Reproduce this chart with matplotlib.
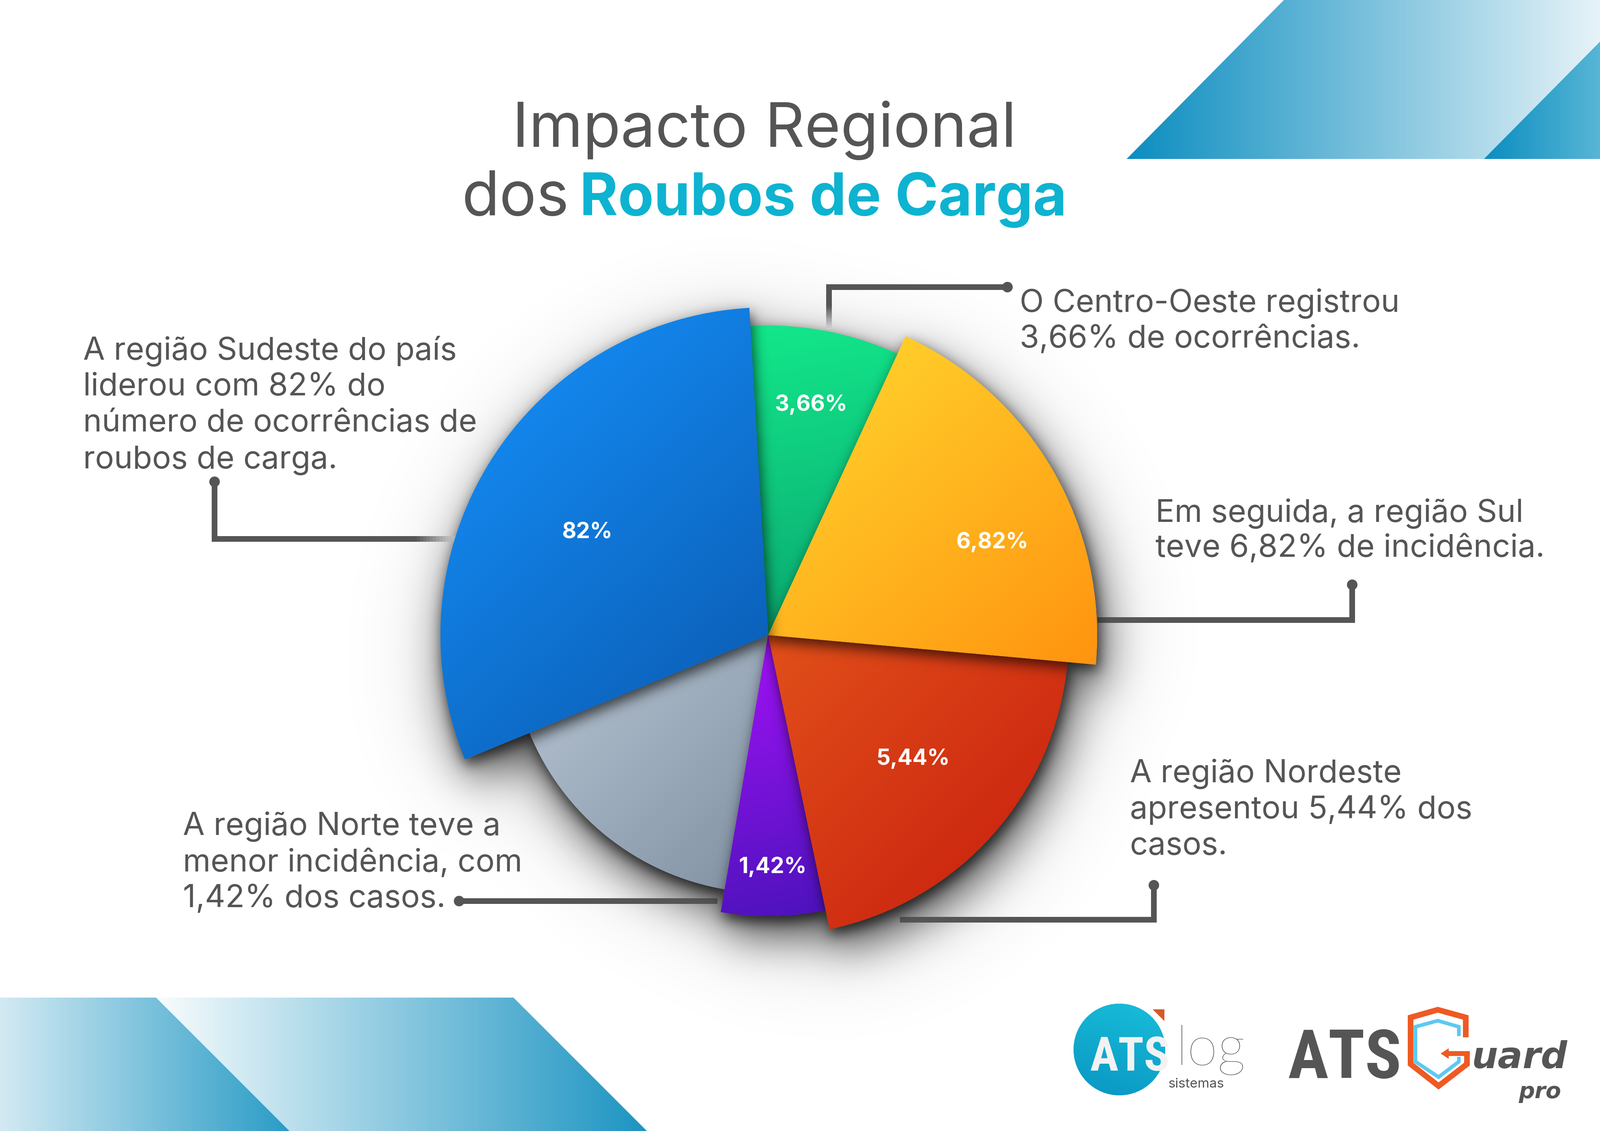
import numpy as np
import matplotlib
matplotlib.use("Agg")
import matplotlib.pyplot as plt
from matplotlib.patches import Polygon, Circle
from matplotlib.collections import LineCollection
from matplotlib.colors import to_rgb

W, H = 3945, 2789

# ---------------- data ----------------
regions = ["Sul", "Centro-Oeste", "Sudeste", "Sem rótulo", "Norte", "Nordeste"]
pct_labels = ["6,82%", "3,66%", "82%", "", "1,42%", "5,44%"]
slice_degrees = [70.45, 28.0, 109.0, 58.0, 21.5, 73.05]   # slice sizes as drawn

title_line1 = "Impacto Regional"
title_dos = "dos"
title_highlight = "Roubos de Carga"

note_sudeste = ["A região Sudeste do país", "liderou com 82% do",
                "número de ocorrências de", "roubos de carga."]
note_centro_oeste = ["O Centro-Oeste registrou", "3,66% de ocorrências."]
note_sul = ["Em seguida, a região Sul", "teve 6,82% de incidência."]
note_nordeste = ["A região Nordeste", "apresentou 5,44% dos", "casos."]
note_norte = ["A região Norte teve a", "menor incidência, com", "1,42% dos casos."]

# ---------------- style ----------------
GRAY_TXT = "#555555"
CYAN = "#0DB3D0"
BODY_FONT = ["Inter", "DejaVu Sans"]
CX, CY = 1894, H - 1566
START_ANGLE = -5.15
slice_radius = [811, 763, 808, 636, 693, 741]
slice_grad = [("#FFDA30", "#FF930F", (1, -1.2)),
              ("#13E88B", "#0AA56F", (0.2, -1)),
              ("#1694FF", "#0A58AE", (1, -1.1)),
              ("#B8C6D4", "#8090A2", (1, -1)),
              ("#A412F7", "#4D12BC", (0.2, -1)),
              ("#E2501A", "#C61B0D", (1, -1))]
slice_z = [18, 16, 20, 10, 12, 14]
label_polar = [(22.5, 598), (79.4, 577), (150.4, 513), None, (-88.9, 573), (-40.5, 470)]


def px(v):
    return v * 0.72


fig = plt.figure(figsize=(W / 100, H / 100), dpi=100)
fig.patch.set_facecolor("white")
ax = fig.add_axes([0, 0, 1, 1])
ax.set_xlim(0, W)
ax.set_ylim(0, H)
ax.set_autoscale_on(False)
ax.axis("off")
renderer = fig.canvas.get_renderer()


def Y(y):
    return H - y


def patch_path(p):
    return p.get_patch_transform().transform_path(p.get_path())


def grad_fill(patch, c1, c2, direction, z, n=256):
    v = patch_path(patch).vertices
    x0, y0 = v.min(0)
    x1, y1 = v.max(0)
    X, Yg = np.meshgrid(np.linspace(x0, x1, n), np.linspace(y0, y1, n))
    d = np.asarray(direction, float)
    d /= np.hypot(*d)
    P = X * d[0] + Yg * d[1]
    t = (P - P.min()) / (P.max() - P.min())
    a, b = np.array(to_rgb(c1)), np.array(to_rgb(c2))
    img = a * (1 - t)[..., None] + b * t[..., None]
    im = ax.imshow(img, extent=(x0, x1, y0, y1), origin="lower", zorder=z,
                   interpolation="bilinear")
    im.set_clip_path(patch)
    return im


def poly(pts_img, c1, c2, direction, z):
    p = Polygon([(x, Y(y)) for x, y in pts_img], closed=True, fc=c1, ec="none", zorder=z)
    ax.add_patch(p)
    grad_fill(p, c1, c2, direction, z + 0.05)
    return p


# ---------------- decorative corner shapes ----------------
poly([(2778, 392), (3166, 0), (3945, 0), (3945, 103), (3659, 392)], "#0B8DC0", "#E6F3F8", (1, 0), 1)
poly([(3659, 392), (3945, 103), (3945, 392)], "#0B8DC0", "#58B6D6", (1, 0), 1)
poly([(0, 2460), (385, 2460), (714, 2789), (0, 2789)], "#D3EAF3", "#2A9CC6", (1, 0), 1)
poly([(385, 2460), (1266, 2460), (1595, 2789), (714, 2789)], "#F8FCFD", "#1C94C2", (1, 0), 1)

# ---------------- pie ----------------
wedges, _ = ax.pie(slice_degrees, startangle=START_ANGLE, counterclock=True,
                   center=(CX, CY), radius=1.0,
                   wedgeprops=dict(linewidth=0, edgecolor="none"))
for w, r, (c1, c2, d), z in zip(wedges, slice_radius, slice_grad, slice_z):
    w.set_radius(r)
    w.set_zorder(z)
    w.set_facecolor(c1)
    grad_fill(w, c1, c2, d, z + 0.1)

ax.set_xlim(0, W)
ax.set_ylim(0, H)
ax.set_aspect("equal")
ax.axis("off")

# ---------------- shadows ----------------
step = 4
GX0, GX1 = 700, 3200
GY0, GY1 = H - 2800, H - 400
gx = np.arange(GX0, GX1, step) + step / 2
gy = np.arange(GY0, GY1, step) + step / 2
PX, PY = np.meshgrid(gx, gy)
pts = np.column_stack([PX.ravel(), PY.ravel()])
ny, nx = PX.shape
_kcache = {}


def gmat(n, s):
    key = (n, s)
    if key not in _kcache:
        i = np.arange(n)
        K = np.exp(-0.5 * ((i[:, None] - i[None, :]) / s) ** 2)
        _kcache[key] = K / K.sum(axis=1, keepdims=True)
    return _kcache[key]


def blur(M, sigma_px):
    s = sigma_px / step
    return gmat(ny, s) @ M @ gmat(nx, s).T


def mask(p, dx=0.0, dy=0.0):
    return patch_path(p).contains_points(pts - np.array([dx, dy])).reshape(PX.shape).astype(float)


def draw_shadow(M, alpha, z):
    img = np.zeros(M.shape + (4,))
    img[..., 3] = np.clip(alpha * M, 0, 1)
    ax.imshow(img, extent=(GX0, GX0 + nx * step, GY0, GY0 + ny * step), origin="lower",
              zorder=z, interpolation="bilinear")


union = np.zeros(PX.shape)
for w in wedges:
    union = np.maximum(union, mask(w, 16, -50))
draw_shadow(blur(union, 50), 0.6, 2)
draw_shadow(blur(union, 115), 0.25, 2)

for w, z in zip(wedges, slice_z):
    draw_shadow(blur(mask(w, 5, -14), 16), 0.68, z - 0.5)

# ---------------- connectors ----------------
LW = px(14)


def connector(pts_img, fade=0):
    P = np.array([(x, Y(y)) for x, y in pts_img], float)
    if fade > 0:
        a, b = P[-2], P[-1]
        L = np.hypot(*(b - a))
        cut = a + (b - a) * (L - fade) / L
        main = np.vstack([P[:-1], cut])
        ax.plot(main[:, 0], main[:, 1], color=GRAY_TXT, lw=LW, solid_capstyle="butt",
                solid_joinstyle="miter", zorder=3)
        k = 14
        segs, cols = [], []
        c0, c1 = np.array(to_rgb(GRAY_TXT)), np.array(to_rgb("#dcdcdc"))
        for i in range(k):
            p0 = cut + (b - cut) * i / k
            p1 = cut + (b - cut) * (i + 1.05) / k
            segs.append([p0, p1])
            cols.append(c0 * (1 - i / (k - 1)) + c1 * (i / (k - 1)))
        ax.add_collection(LineCollection(segs, colors=cols, linewidths=LW, capstyle="butt", zorder=3))
    else:
        ax.plot(P[:, 0], P[:, 1], color=GRAY_TXT, lw=LW, solid_capstyle="butt",
                solid_joinstyle="miter", zorder=3)
    ax.add_patch(Circle(P[0], 13, fc=GRAY_TXT, ec="none", zorder=3.1))


connector([(529, 1188), (529, 1329), (1130, 1329)], fade=110)
connector([(2484, 708), (2044, 708), (2044, 812)], fade=60)
connector([(3334, 1442), (3334, 1529), (2706, 1529)])
connector([(2845, 2183), (2845, 2268), (2219, 2268)])
connector([(1132, 2222), (1769, 2222)])


# ---------------- text helpers ----------------
def measure(s, **kw):
    t = ax.text(0, 0, s, fontsize=100, **kw)
    wdt = t.get_window_extent(renderer).width
    t.remove()
    return wdt


def fit_size(pairs, **kw):
    return 100 * float(np.mean([tw / measure(s, **kw) for s, tw in pairs]))


body_kw = dict(family=BODY_FONT)
body_fs = fit_size([("A região Sudeste do país", 931), ("liderou com 82% do", 752),
                    ("número de ocorrências de", 1001), ("roubos de carga.", 629),
                    ("O Centro-Oeste registrou", 953), ("3,66% de ocorrências.", 801),
                    ("Em seguida, a região Sul", 923), ("teve 6,82% de incidência.", 936),
                    ("A região Nordeste", 682), ("apresentou 5,44% dos", 834),
                    ("A região Norte teve a", 788), ("menor incidência, com", 875),
                    ("1,42% dos casos.", 598)], **body_kw)


def block(lines, x, baselines):
    for s, b in zip(lines, baselines):
        ax.text(x, Y(b), s, fontsize=body_fs, color=GRAY_TXT, ha="left", va="baseline",
                zorder=30, **body_kw)


block(note_sudeste, 205, [887, 975, 1064, 1155])
block(note_centro_oeste, 2514, [769, 857])
block(note_sul, 2849, [1287, 1373])
block(note_nordeste, 2786, [1929, 2018, 2107])
block(note_norte, 451, [2059, 2149, 2237])

# title
t_fs = fit_size([(title_line1, 1243)], **body_kw)
ax.text(1263, Y(362), title_line1, fontsize=t_fs, color=GRAY_TXT, ha="left", va="baseline",
        zorder=30, **body_kw)
ax.text(1138, Y(531), title_dos, fontsize=t_fs, color=GRAY_TXT, ha="left", va="baseline",
        zorder=30, **body_kw)
tb_fs = fit_size([(title_highlight, 1201)], fontweight="bold", **body_kw)
ax.text(1429, Y(531), title_highlight, fontsize=tb_fs, color=CYAN, ha="left", va="baseline",
        fontweight="bold", zorder=30, **body_kw)

# slice labels
lab_fs = fit_size([("3,66%", 179)], fontweight="bold", **body_kw)
for lab, pol in zip(pct_labels, label_polar):
    if not lab or pol is None:
        continue
    ang, dist = pol
    xx = CX + dist * np.cos(np.radians(ang))
    yy = CY + dist * np.sin(np.radians(ang))
    ax.text(xx, yy, lab, fontsize=lab_fs, color="white", fontweight="bold", ha="center",
            va="center", zorder=40, **body_kw)

# ---------------- logos ----------------
circ = Circle((2760, Y(2588)), 113, fc="#10AFD0", ec="none", zorder=5)
ax.add_patch(circ)
grad_fill(circ, "#18BEDA", "#0A96C2", (-0.3, -1), 5.05)
ax.add_patch(Polygon([(2842, Y(2489)), (2871, Y(2489)), (2871, Y(2518))], closed=True,
                     fc="#D35A2B", ec="none", zorder=5.2))
narrow = dict(family=["Liberation Sans Narrow", "Roboto Condensed", "DejaVu Sans"],
              fontweight="bold", fontstretch="condensed")
ats1_fs = fit_size([("ATS", 196)], **narrow)
ax.text(2688, Y(2640), "ATS", fontsize=ats1_fs, color="#F2F2F2", ha="left", va="baseline",
        zorder=6, **narrow)
light = dict(family=["Lato", "DejaVu Sans"], fontweight="light")
log_fs = fit_size([("log", 171)], **light)
ax.text(2900, Y(2626), "log", fontsize=log_fs, color=GRAY_TXT, ha="left", va="baseline",
        zorder=6, **light)
sis_fs = fit_size([("sistemas", 138)], family=BODY_FONT)
ax.text(2880, Y(2682), "sistemas", fontsize=sis_fs, color=GRAY_TXT, ha="left", va="baseline",
        zorder=6, family=BODY_FONT)

ats2_fs = fit_size([("ATS", 280)], **narrow)
ax.text(3175, Y(2658), "ATS", fontsize=ats2_fs, color=GRAY_TXT, ha="left", va="baseline",
        zorder=6, **narrow)

ORANGE = "#EE5A24"
LBLUE = "#5EC8F2"
outer = [(3614, 2558), (3614, 2509), (3545, 2490), (3478, 2509), (3478, 2624),
         (3547, 2678), (3617, 2624), (3617, 2592)]
ax.plot([p[0] for p in outer], [Y(p[1]) for p in outer], color=ORANGE, lw=px(14),
        solid_joinstyle="miter", solid_capstyle="butt", zorder=6)
ax.plot([3624, 3568], [Y(2598), Y(2598)], color=ORANGE, lw=px(12), solid_capstyle="butt", zorder=6)
ax.add_patch(Polygon([(3552, Y(2598)), (3572, Y(2585)), (3572, Y(2611))], closed=True,
                     fc=ORANGE, ec="none", zorder=6))
inner = [(3597, 2555), (3597, 2532), (3545, 2517), (3490, 2532), (3490, 2618),
         (3547, 2656), (3597, 2618), (3597, 2606)]
ax.plot([p[0] for p in inner], [Y(p[1]) for p in inner], color=LBLUE, lw=px(9),
        solid_joinstyle="miter", solid_capstyle="butt", zorder=6)

bi = dict(family=["DejaVu Sans"], fontweight="bold", fontstyle="italic")
uard_fs = fit_size([("uard", 236)], **bi)
ax.text(3629, Y(2634), "uard", fontsize=uard_fs, color=GRAY_TXT, ha="left", va="baseline",
        zorder=6, **bi)
pro_fs = fit_size([("pro", 105)], **bi)
ax.text(3745, Y(2708), "pro", fontsize=pro_fs, color=GRAY_TXT, ha="left", va="baseline",
        zorder=6, **bi)

ax.set_xlim(0, W)
ax.set_ylim(0, H)
fig.savefig("out.png", dpi=100, facecolor="white")
